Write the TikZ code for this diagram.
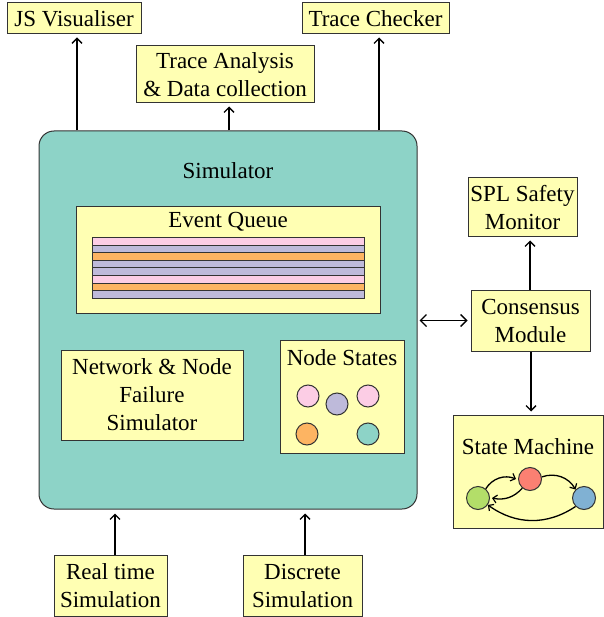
\documentclass[tikz,border=0pt]{standalone}
\usepackage{fontspec}
\setmainfont{Liberation Serif}
\usetikzlibrary{arrows.meta}
\definecolor{cteal}{HTML}{8DD3C7}
\definecolor{cyel}{HTML}{FFFFB3}
\definecolor{clav}{HTML}{BEBADA}
\definecolor{cred}{HTML}{FB8072}
\definecolor{cblue}{HTML}{80B1D3}
\definecolor{corange}{HTML}{FDB462}
\definecolor{cgreen}{HTML}{B3DE69}
\definecolor{cpink}{HTML}{FCCDE5}
\definecolor{cborder}{HTML}{333333}
\tikzset{
  box/.style={draw=cborder, line width=1pt, fill=cyel, align=center, inner sep=0pt,
    font=\fontsize{23}{28}\selectfont},
  lbl/.style={inner sep=0pt, align=center, font=\fontsize{23}{28}\selectfont},
  arr/.style={line width=1.6pt, -{Straight Barb[length=5pt,width=10pt,line width=1.3pt]}},
  darr/.style={line width=1.6pt, {Straight Barb[length=6pt,width=12pt,line width=1.4pt]}-{Straight Barb[length=6pt,width=12pt,line width=1.4pt]}},
  sarr/.style={line width=1.3pt, -{Straight Barb[length=4pt,width=8pt,line width=1.2pt]}},
  dot/.style={circle, draw=cborder, line width=1pt, minimum size=22pt, inner sep=0pt},
  sdot/.style={dot, minimum size=23pt},
  bar/.style={draw=cborder, line width=0.9pt}
}
\begin{document}
\begin{tikzpicture}[x=1pt,y=-1pt]
\useasboundingbox (0,0) rectangle (603,617);
% top boxes
\node[box, minimum width=134, minimum height=31] (js) at (74,18.5) {JS Visualiser};
\node[box, minimum width=147, minimum height=31] (tc) at (375.5,18.5) {Trace Checker};
\node[box, minimum width=178, minimum height=57] (ta) at (225,74.5) {Trace Analysis\\\& Data collection};
% simulator
\node[draw=cborder, line width=1pt, fill=cteal, rounded corners=15pt, minimum width=378, minimum height=378, inner sep=0pt] (sim) at (228,320) {};
\node[lbl] (simlbl) at (228,171) {Simulator};
% event queue
\node[box, minimum width=304, minimum height=106] (eq) at (228,260) {};
\node[lbl] (eqlbl) at (228,222) {Event Queue};
\foreach \c [count=\i from 0] in {cpink,clav,corange,clav,clav,cpink,corange,clav}{
  \draw[bar, fill=\c] (92,{237.5+\i*7.6}) rectangle (364,{237.5+(\i+1)*7.6});
}
% network failure
\node[box, minimum width=182, minimum height=90] (nf) at (152,395) {Network \& Node\\Failure\\Simulator};
% node states
\node[box, minimum width=124, minimum height=113] (ns) at (342,396.5) {};
\node[lbl] (nslbl) at (342,358) {Node States};
\node[dot, fill=cpink] (n1) at (308,396) {};
\node[dot, fill=clav] (n2) at (337,404) {};
\node[dot, fill=cpink] (n3) at (368,396) {};
\node[dot, fill=corange] (n4) at (307,434) {};
\node[dot, fill=cteal] (n5) at (368,434) {};
% right side
\node[box, minimum width=119, minimum height=61] (cm) at (530.5,320.5) {Consensus\\Module};
\node[box, minimum width=109, minimum height=59] (spl) at (522.5,207.5) {SPL Safety\\Monitor};
\node[box, minimum width=150, minimum height=113] (sm) at (528,471.5) {};
\node[lbl] (smlbl) at (528,447) {State Machine};
\node[sdot, fill=cgreen] (g) at (478,498) {};
\node[sdot, fill=cred] (r) at (530,479) {};
\node[sdot, fill=cblue] (b) at (584,498) {};
% bottom
\node[box, minimum width=113, minimum height=61] (rt) at (110.5,585.5) {Real time\\Simulation};
\node[box, minimum width=119, minimum height=61] (ds) at (302.5,585.5) {Discrete\\Simulation};
% arrows
\draw[arr, shorten >=3pt] (sim.north -| 77,0) -- (js.south -| 77,0);
\draw[arr, shorten >=3pt] (sim.north -| 379,0) -- (tc.south -| 379,0);
\draw[arr, shorten >=3pt] (sim.north -| 229,0) -- (ta.south -| 229,0);
\draw[darr, shorten <=2pt, shorten >=3pt] (sim.east |- cm.west) -- (cm.west);
\draw[arr, shorten >=3pt] (cm.north -| 530,0) -- (spl.south -| 530,0);
\draw[arr, shorten >=3pt] (cm.south -| 531,0) -- (sm.north -| 531,0);
\draw[arr, shorten >=4pt] (rt.north -| 115,0) -- (sim.south -| 115,0);
\draw[arr, shorten >=4pt] (ds.north -| 305,0) -- (sim.south -| 305,0);
% state machine arrows
\draw[sarr] (g.50) to[bend left=40] ([xshift=-2pt]r.west);
\draw[sarr] (r.230) to[bend left=30] ([xshift=2pt]g.east);
\draw[sarr] (r.10) to[bend left=40] (b.north west);
\draw[sarr] (b.225) to[bend left=35] (g.-35);
\end{tikzpicture}
\end{document}
